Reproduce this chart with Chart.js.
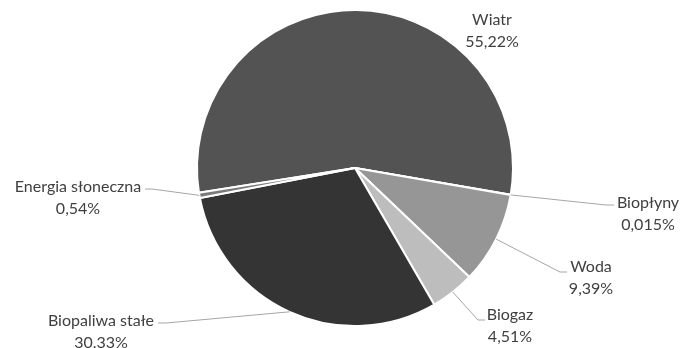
<!DOCTYPE html>
<html>
<head>
<meta charset="utf-8">
<script src="https://cdn.jsdelivr.net/npm/chart.js@4"></script>
<style>
  html, body { margin: 0; padding: 0; background: #fff; }
  #wrap { width: 680px; height: 348px; }
</style>
</head>
<body>
<div id="wrap"><canvas id="pieChart" width="680" height="348"></canvas></div>
<script>
// data
var labels = ["Wiatr", "Biopłyny", "Woda", "Biogaz", "Biopaliwa stałe", "Energia słoneczna"];
var values = [55.22, 0.015, 9.39, 4.51, 30.33, 0.54];
var valueTexts = ["55,22%", "0,015%", "9,39%", "4,51%", "30.33%", "0,54%"];
var colors = ["#535353", "#7f7f7f", "#969696", "#bdbdbd", "#343434", "#7a7a7a"];

// label placement: text centre, elbow of leader line, end of leader line (null = no leader)
var labelLayout = [
  { x: 492, y: 20, elbow: null },
  { x: 648, y: 203, elbow: [606, 205], end: [614, 205] },
  { x: 591, y: 267, elbow: [560, 272], end: [567, 272] },
  { x: 510, y: 315, elbow: [478, 320], end: [485, 320] },
  { x: 101, y: 321, elbow: [166, 323], end: [158, 323] },
  { x: 78, y: 187, elbow: [152, 189], end: [145, 189] }
];

var leaderLabels = {
  id: 'leaderLabels',
  afterDatasetsDraw: function(chart) {
    var ctx = chart.ctx;
    var arcs = chart.getDatasetMeta(0).data;
    ctx.save();
    arcs.forEach(function(arc, i) {
      var lay = labelLayout[i];
      if (lay.elbow) {
        var p = arc.getProps(['x', 'y', 'startAngle', 'endAngle', 'outerRadius'], true);
        var mid = (p.startAngle + p.endAngle) / 2;
        ctx.beginPath();
        ctx.strokeStyle = "#a6a6a6";
        ctx.lineWidth = 1;
        ctx.moveTo(p.x + Math.cos(mid) * p.outerRadius, p.y + Math.sin(mid) * p.outerRadius);
        ctx.lineTo(lay.elbow[0], lay.elbow[1]);
        ctx.lineTo(lay.end[0], lay.end[1]);
        ctx.stroke();
      }
      ctx.fillStyle = "#404040";
      ctx.font = "16px Lato, 'Open Sans', sans-serif";
      ctx.textAlign = "center";
      ctx.textBaseline = "middle";
      ctx.fillText(labels[i], lay.x, lay.y);
      ctx.fillText(valueTexts[i], lay.x, lay.y + 22);
    });
    ctx.restore();
  }
};

var chart_pie = new Chart(document.getElementById("pieChart").getContext("2d"), {
  type: 'pie',
  data: {
    labels: labels,
    datasets: [{
      data: values,
      backgroundColor: colors,
      borderColor: "#ffffff",
      borderWidth: 2
    }]
  },
  options: {
    responsive: false,
    animation: false,
    rotation: -99,
    radius: 158,
    layout: { padding: { left: 30, right: 0, top: 0, bottom: 12 } },
    plugins: {
      legend: { display: false },
      tooltip: { enabled: false }
    }
  },
  plugins: [leaderLabels]
});
</script>
</body>
</html>
